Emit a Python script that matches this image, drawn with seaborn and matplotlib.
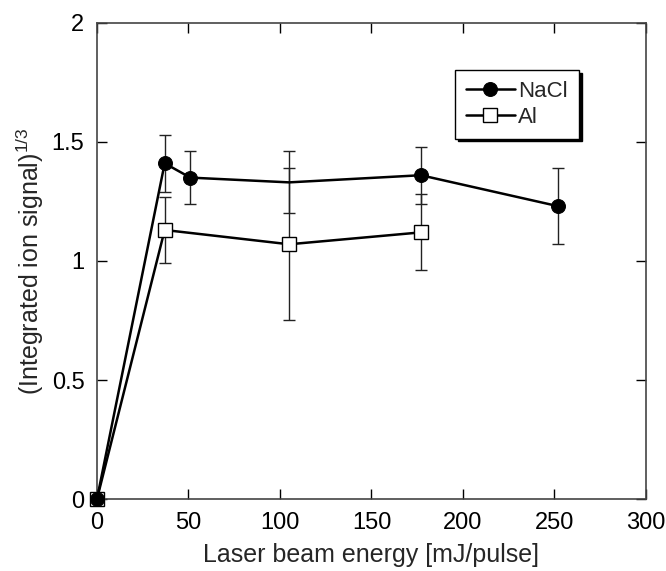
import numpy as np
import pandas as pd
import matplotlib
matplotlib.use('Agg')
import matplotlib.pyplot as plt
import seaborn as sns

# values
nacl_x = [0, 37, 51, 105, 177, 252]
nacl_y = [0, 1.41, 1.35, 1.33, 1.36, 1.23]
nacl_err = [0, 0.12, 0.11, 0.13, 0.12, 0.16]

al_x = [0, 37, 105, 177]
al_y = [0, 1.13, 1.07, 1.12]
al_err = [0, 0.14, 0.32, 0.16]

x_ticks = [0, 50, 100, 150, 200, 250, 300]
y_ticks = [0, 0.5, 1, 1.5, 2]

sns.set_theme(style="ticks")
plt.rcParams['font.family'] = ['Liberation Sans', 'DejaVu Sans']
plt.rcParams['mathtext.default'] = 'regular'

fig = plt.figure(figsize=(6.66, 5.71), dpi=100)
ax = fig.add_axes([0.1456, 0.126, 0.8243, 0.834])

nacl = pd.DataFrame({'x': nacl_x, 'y': nacl_y, 'err': nacl_err})
al = pd.DataFrame({'x': al_x, 'y': al_y, 'err': al_err})

# error bars (thin, grey-black)
for df in (nacl, al):
    keep = df['err'] > 0
    ax.errorbar(df['x'][keep], df['y'][keep], yerr=df['err'][keep], fmt='none',
                ecolor='#222222', elinewidth=1.0, capsize=4, capthick=1.0, zorder=1)

# the NaCl point at ~105 has no marker in the original
sns.lineplot(data=al, x='x', y='y', ax=ax, color='black', linewidth=1.8,
             marker='s', markersize=9.5, markerfacecolor='white', markeredgecolor='black',
             markeredgewidth=1.0, label='Al', zorder=2, sort=False, clip_on=False)
sns.lineplot(data=nacl, x='x', y='y', ax=ax, color='black', linewidth=1.8,
             marker='o', markersize=10, markerfacecolor='black', markeredgecolor='black',
             markevery=[0, 1, 2, 4, 5], label='NaCl', zorder=3, sort=False, clip_on=False)

ax.set_xlim(0, 300)
ax.set_ylim(0, 2)
ax.set_xticks(x_ticks)
ax.set_yticks(y_ticks)
ax.set_yticklabels(['0', '0.5', '1', '1.5', '2'])
ax.tick_params(direction='in', length=7, width=1, top=True, right=True,
               labelsize=17, pad=9, colors='black')
for s in ax.spines.values():
    s.set_color('#444444')
    s.set_linewidth(1.2)

ax.set_xlabel('Laser beam energy [mJ/pulse]', fontsize=18, labelpad=7)
ax.set_ylabel('(Integrated ion signal)$^{1/3}$', fontsize=18, labelpad=4)

# legend order: NaCl first
handles, labels = ax.get_legend_handles_labels()
order = [labels.index('NaCl'), labels.index('Al')]
leg = ax.legend([handles[i] for i in order], [labels[i] for i in order],
                loc='upper left', bbox_to_anchor=(0.652, 0.901), fontsize=16,
                frameon=True, fancybox=False, shadow={'color': 'black', 'alpha': 1},
                handlelength=2.2, handletextpad=0.15, borderpad=0.5, labelspacing=0.2,
                borderaxespad=0, edgecolor='black', framealpha=1)
leg.get_frame().set_linewidth(1.0)

fig.savefig('out.png', dpi=100)
